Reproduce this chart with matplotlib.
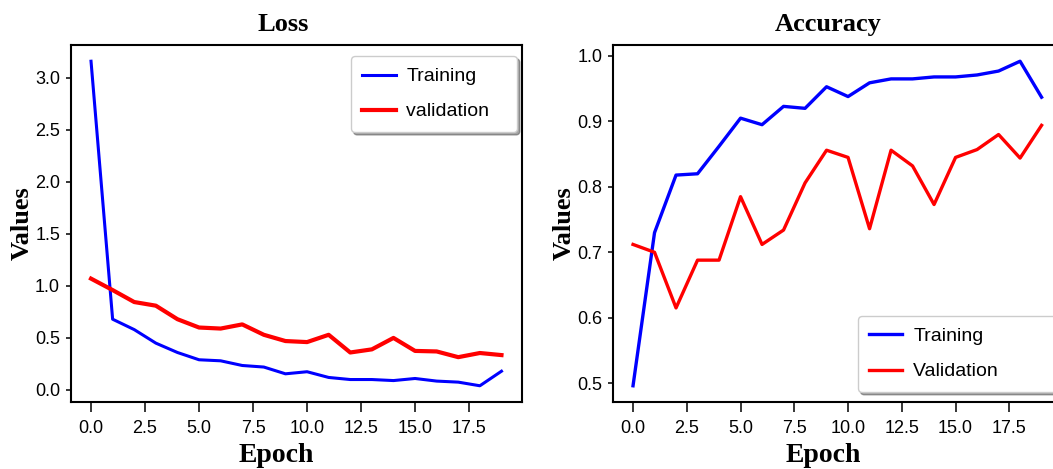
import matplotlib
matplotlib.use("Agg")
import matplotlib.pyplot as plt
from matplotlib.ticker import MultipleLocator

# values
epochs = list(range(20))

train_loss = [3.16, 0.68, 0.58, 0.45, 0.36, 0.29, 0.28, 0.235, 0.22, 0.155,
              0.175, 0.12, 0.10, 0.10, 0.09, 0.11, 0.085, 0.075, 0.04, 0.18]
val_loss = [1.07, 0.96, 0.845, 0.81, 0.68, 0.60, 0.59, 0.63, 0.53, 0.47,
            0.46, 0.53, 0.36, 0.39, 0.50, 0.375, 0.37, 0.315, 0.355, 0.335]

train_acc = [0.496, 0.73, 0.818, 0.82, 0.862, 0.905, 0.895, 0.923, 0.92, 0.953,
             0.938, 0.959, 0.965, 0.965, 0.968, 0.968, 0.971, 0.977, 0.992, 0.937]
val_acc = [0.712, 0.70, 0.615, 0.688, 0.688, 0.785, 0.712, 0.734, 0.806, 0.856,
           0.845, 0.736, 0.856, 0.832, 0.773, 0.845, 0.857, 0.88, 0.844, 0.894]

tick_font = ["Liberation Sans", "DejaVu Sans"]
serif_font = ["Liberation Serif", "DejaVu Serif"]

W, H = 1053, 469
fig = plt.figure(figsize=(W / 100, H / 100), dpi=100)

# axes boxes in pixels: left, top, right, bottom (right panel runs past the edge)
boxes = [(70.5, 45, 522, 402), (612.6, 45, 1062, 402)]
axes = []
for l, t, r, b in boxes:
    axes.append(fig.add_axes([l / W, (H - b) / H, (r - l) / W, (b - t) / H]))


def style(ax, title, tx, lx):
    ax.set_title(title, fontsize=19, fontweight="bold", family=serif_font, pad=10, x=tx)
    ax.set_xlabel("Epoch", fontsize=20, fontweight="bold", family=serif_font)
    ax.set_ylabel("Values", fontsize=19, fontweight="bold", family=serif_font)
    ax.xaxis.set_label_coords(lx, -0.115)
    ax.yaxis.set_label_coords(-0.082, 0.5)
    ax.xaxis.set_major_locator(MultipleLocator(2.5))
    for s in ax.spines.values():
        s.set_linewidth(1.5)
    ax.tick_params(width=1.1, labelsize=13)
    ax.tick_params(axis="x", length=7, pad=6)
    ax.tick_params(axis="y", length=3.5, pad=4)
    for lab in ax.get_xticklabels() + ax.get_yticklabels():
        lab.set_family(tick_font)


leg_kw = dict(shadow=True, framealpha=1, edgecolor="#cccccc", borderaxespad=0,
              prop={"family": tick_font, "size": 14}, handlelength=1.7,
              handletextpad=0.55, borderpad=0.6, labelspacing=0.9)

ax1, ax2 = axes
ax1.plot(epochs, train_loss, color="blue", lw=2.2, label="Training")
ax1.plot(epochs, val_loss, color="red", lw=3.0, label="validation   ")
style(ax1, "Loss", 0.47, 0.455)
ax1.legend(loc="upper right", bbox_to_anchor=(0.989, 0.969), **leg_kw)

ax2.plot(epochs, train_acc, color="blue", lw=2.4, label="Training")
ax2.plot(epochs, val_acc, color="red", lw=2.4, label="Validation         ")
style(ax2, "Accuracy", 0.48, 0.468)
ax2.legend(loc="lower right", bbox_to_anchor=(0.991, 0.028), **leg_kw)

fig.savefig("out.png", dpi=100)
